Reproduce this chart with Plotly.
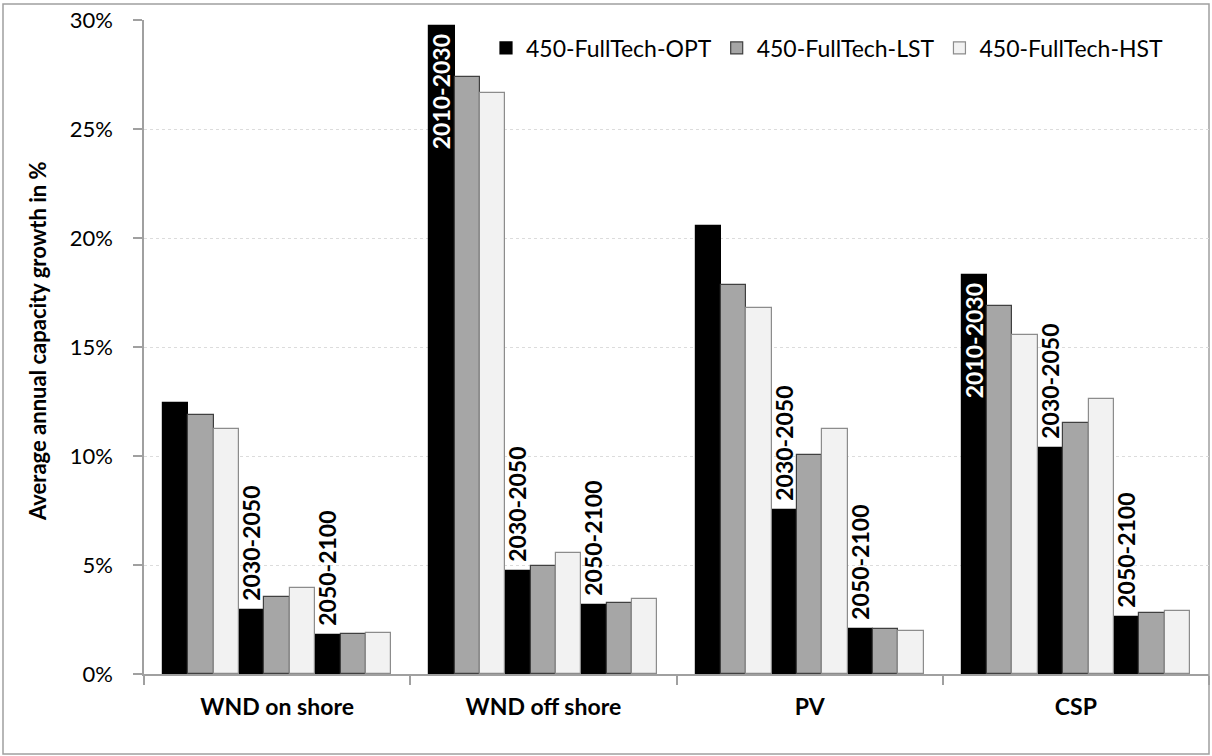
import plotly.graph_objects as go

# ---------------- data ----------------
categories = ["WND on shore", "WND off shore", "PV", "CSP"]
periods = ["2010-2030", "2030-2050", "2050-2100"]
scenarios = ["450-FullTech-OPT", "450-FullTech-LST", "450-FullTech-HST"]

# values per category, per period (in %)
opt_values = [[12.45, 2.95, 1.80], [29.74, 4.71, 3.15], [20.57, 7.54, 2.07], [18.30, 10.35, 2.63]]
lst_values = [[11.89, 3.53, 1.83], [27.39, 4.94, 3.28], [17.83, 10.03, 2.05], [16.88, 11.50, 2.78]]
hst_values = [[11.24, 3.94, 1.89], [26.63, 5.55, 3.44], [16.79, 11.23, 1.96], [15.55, 12.63, 2.88]]

# whether the first-period label is printed inside the OPT bar
show_first_label = [False, True, False, True]

y_ticks = [0, 5, 10, 15, 20, 25, 30]
y_title = "Average annual capacity growth in %"

# ---------------- styling / layout ----------------
FONT = "Lato"
fills = ["#000000", "#a6a6a6", "#f2f2f2"]
lines = ["#000000", "#404040", "#8c8c8c"]
NB = "\u00a0"

W, H = 1212, 756
ML, MR, MT, MB = 144, 3, 20, 82

n_per = len(periods)
n_sc = len(scenarios)
n_bars = n_per * n_sc
group_w = n_bars + 1.5  # category slot width in bar units
centers = [group_w * i + group_w / 2 for i in range(len(categories))]


def xpos(ci, p, s):
    return centers[ci] + (p * n_sc + s) - (n_bars - 1) / 2


fig = go.Figure()
all_vals = [opt_values, lst_values, hst_values]
for s, name in enumerate(scenarios):
    xs, ys, texts, tpos = [], [], [], []
    for ci in range(len(categories)):
        for p in range(n_per):
            xs.append(xpos(ci, p, s))
            ys.append(all_vals[s][ci][p])
            if s == 0:
                if p == 0:
                    texts.append(periods[p] + NB if show_first_label[ci] else "")
                    tpos.append("inside")
                else:
                    texts.append(NB + periods[p])
                    tpos.append("outside")
            else:
                texts.append("")
                tpos.append("none")
    fig.add_trace(go.Bar(
        x=xs, y=ys, name=name, width=1,
        marker=dict(color=fills[s], line=dict(color=lines[s], width=1.2)),
        text=texts, textposition=tpos, textangle=-90,
        insidetextanchor="end",
        insidetextfont=dict(family=FONT, size=23, color="white", weight="bold"),
        outsidetextfont=dict(family=FONT, size=23, color="black", weight="bold"),
        constraintext="none", cliponaxis=False,
        hoverinfo="x+y+name",
    ))

total_w = group_w * len(categories)
pw = W - ML - MR
ph = H - MT - MB

fig.update_layout(
    width=W, height=H,
    margin=dict(l=ML, r=MR, t=MT, b=MB, autoexpand=False),
    paper_bgcolor="white", plot_bgcolor="white",
    barmode="overlay", bargap=0,
    font=dict(family=FONT, color="black"),
    showlegend=True,
    legend=dict(
        orientation="h", x=(486 - ML) / pw, y=(H - MB - 48) / ph,
        xanchor="left", yanchor="middle",
        font=dict(family=FONT, size=23, color="black"),
        bgcolor="rgba(0,0,0,0)", traceorder="normal",
    ),
    xaxis=dict(
        range=[0, total_w], tickmode="array", tickvals=centers, ticktext=categories,
        ticks="", showgrid=False, zeroline=False,
        showline=True, linecolor="#a0a0a0", linewidth=1.5,
        tickfont=dict(family=FONT, size=23, color="black", weight="bold"),
        ticklabelstandoff=12,
        minor=dict(tickmode="linear", tick0=0, dtick=group_w, ticks="outside",
                   ticklen=9, tickcolor="#a0a0a0", tickwidth=1.5, showgrid=False),
        fixedrange=True,
    ),
    yaxis=dict(
        range=[0, 30], tickmode="array", tickvals=y_ticks,
        ticktext=[f"{v}%" for v in y_ticks],
        ticks="outside", ticklen=9, tickcolor="#a0a0a0", tickwidth=1.5,
        showline=True, linecolor="#a0a0a0", linewidth=1.5,
        showgrid=True, gridcolor="#dcdcdc", griddash="dot", gridwidth=1,
        zeroline=False,
        tickfont=dict(family=FONT, size=22, color="black"),
        ticklabelstandoff=16,
        fixedrange=True,
    ),
)

# y-axis title as rotated annotation
fig.add_annotation(
    text=y_title, textangle=-90, showarrow=False,
    xref="paper", yref="paper", x=(37 - ML) / pw, y=(H - MB - 341) / ph,
    xanchor="center", yanchor="middle",
    font=dict(family=FONT, size=22, color="black", weight="bold"),
)

# outer chart border
fig.add_shape(
    type="rect", xref="paper", yref="paper",
    x0=(3 - ML) / pw, x1=(1209 - ML) / pw,
    y0=(H - MB - 754) / ph, y1=(H - MB - 4) / ph,
    line=dict(color="#a0a0a0", width=1.5), fillcolor="rgba(0,0,0,0)", layer="below",
)

fig.write_html("out.html", config={"displayModeBar": False},
               post_script="document.body.style.margin='0';")
